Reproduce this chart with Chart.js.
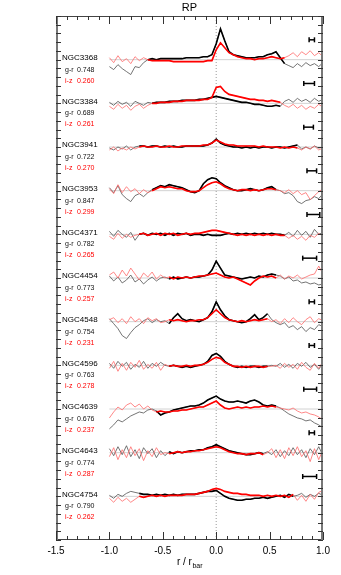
<!DOCTYPE html>
<html><head><meta charset="utf-8">
<script src="https://cdn.jsdelivr.net/npm/chart.js@4/dist/chart.umd.min.js"></script>
<style>html,body{margin:0;padding:0;background:#fff}canvas{display:block}</style>
</head><body>
<canvas id="c" width="341" height="575"></canvas>
<script>
// r / r_bar sample positions
const radius = [-1.00,-0.96,-0.92,-0.88,-0.84,-0.80,-0.76,-0.72,-0.68,-0.64,-0.60,-0.56,-0.52,-0.48,-0.44,-0.40,-0.36,-0.32,-0.28,-0.24,-0.20,-0.16,-0.12,-0.08,-0.04,0.00,0.04,0.08,0.12,0.16,0.20,0.24,0.28,0.32,0.36,0.40,0.44,0.48,0.52,0.56,0.60,0.64,0.68,0.72,0.76,0.80,0.84,0.88,0.92,0.96,1.00];
const galaxies = ['NGC3368','NGC3384','NGC3941','NGC3953','NGC4371','NGC4454','NGC4548','NGC4596','NGC4639','NGC4643','NGC4754'];
const meanGR = ['0.748','0.689','0.722','0.847','0.782','0.773','0.754','0.763','0.676','0.774','0.790'];
const meanIZ = ['0.260','0.261','0.270','0.299','0.265','0.257','0.231','0.278','0.237','0.287','0.262'];
// colour deviation profiles (0.01 mag)
const grNGC3368 = [-7,-10,-5,-9,-12,-15,-7,-8,-3,0,1,0,1,1,1,1,1,1,2,2,2,2,3,3,5,16,31,19,8,5,4,3,2,2,2,3,3,5,6,8,2,-4,-6,-8,-4,-7,-3,-6,-4,-7,-3];
const izNGC3368 = [2,-3,4,-2,1,-4,3,-1,2,0,-1,-1,-1,-1,-1,-2,-2,-2,-2,-2,-2,-2,-2,-1,-1,10,17,12,7,5,3,2,1,1,0,1,1,2,3,2,1,2,4,7,3,8,5,9,4,7,3];
const grNGC3384 = [1,-2,2,-1,1,-3,2,0,-2,1,0,1,1,1,2,2,2,3,3,3,3,4,4,5,6,7,6,5,4,3,2,1,1,0,-1,-1,-2,-3,-3,-2,-3,2,4,1,5,2,4,1,5,2,4];
const izNGC3384 = [-3,-6,-1,-5,-2,-7,-3,-1,-5,-2,0,0,1,1,1,2,2,2,3,3,3,3,4,4,6,16,17,12,9,8,7,6,5,4,4,3,3,2,3,2,1,-2,-4,-1,-5,-2,-6,-3,-5,-1,-4];
const grNGC3941 = [-1,-3,0,-2,1,-3,0,1,1,0,1,1,0,1,0,1,0,0,1,1,1,1,1,2,4,8,4,2,1,0,0,-1,0,-1,0,-1,0,0,-1,0,0,-1,0,1,2,-2,0,-2,1,-1,0];
const izNGC3941 = [-3,0,-4,-1,-3,0,-2,0,1,0,0,1,0,0,1,0,0,1,1,1,1,1,2,2,4,7,5,3,2,2,1,1,1,1,1,0,1,0,0,0,-1,0,-1,0,-1,-3,0,-2,1,-3,-1];
const grNGC3953 = [3,-2,5,-4,-8,-11,-5,-3,-6,-2,1,3,5,4,6,5,4,3,1,-1,-2,0,7,11,13,12,8,5,3,1,0,0,1,2,1,0,1,3,4,1,0,-3,-2,-5,-11,-13,-10,-9,-6,-8,-3];
const izNGC3953 = [2,-3,6,-2,4,-1,2,-3,1,-2,0,2,4,3,4,3,2,2,0,-1,-1,0,3,6,8,9,7,4,2,1,0,1,1,0,1,0,1,2,2,1,0,-2,1,-3,0,-4,-2,-9,-5,-1,2];
const grNGC4371 = [3,-2,4,0,-3,2,-6,0,1,-1,1,0,1,-1,1,-1,1,0,1,-1,0,0,-1,0,-1,-1,-1,0,1,0,1,0,1,0,1,0,1,0,1,0,0,-1,2,-2,4,-1,3,-3,5,0,2];
const izNGC4371 = [-2,-5,1,-4,0,-3,-1,0,1,-1,0,1,-1,1,0,1,-1,0,1,0,1,1,2,3,4,4,3,2,1,0,-1,0,-1,0,-1,0,-1,0,-1,0,-1,-1,-4,-1,-5,-2,-6,-1,-3,1,-2];
const grNGC4454 = [2,-3,1,-5,-2,3,-4,-1,-6,-2,1,-3,0,1,-1,1,-1,0,1,0,1,1,2,3,8,17,10,3,2,1,0,-1,0,1,0,2,1,3,4,3,2,-1,1,-3,-2,-5,-4,-6,-5,-7,-6];
const izNGC4454 = [3,6,0,8,2,10,4,-2,5,1,6,-1,3,0,1,-1,1,0,1,0,1,2,2,3,4,5,3,1,0,1,-1,-3,-5,-7,-3,0,2,1,2,0,3,-1,2,0,3,-1,1,3,4,12,4];
const grNGC4548 = [3,-2,-7,-14,-17,-11,-6,-3,1,3,-1,2,0,1,-2,4,8,3,1,2,1,0,2,4,10,20,12,6,2,1,0,-1,0,3,7,2,4,8,2,-1,-3,-1,-6,-4,-8,-5,-10,-6,-8,-3,-5];
const izNGC4548 = [2,4,-1,3,-2,5,0,3,-2,4,1,3,-1,0,2,1,2,1,0,1,1,2,2,4,8,12,8,4,2,1,0,1,0,1,2,1,2,3,0,2,-2,3,-1,4,0,-3,2,5,-1,3,1];
const grNGC4596 = [2,-3,4,-1,3,-4,1,-2,4,-3,2,-1,3,0,-1,0,-1,-2,-1,-2,-1,0,1,4,10,12,9,4,1,-1,-2,-1,-2,-1,-1,-2,-1,-1,0,-1,2,-2,1,-3,2,-1,3,-2,1,-4,2];
const izNGC4596 = [-3,4,-6,2,-5,3,-2,5,-4,1,-3,3,-5,1,-1,0,-1,-1,0,-1,0,0,1,3,6,8,7,3,1,-1,-1,-2,-1,-2,-1,-1,-2,-1,-1,0,-3,2,-2,1,-4,3,-2,-5,2,-3,4];
const grNGC4639 = [-20,-16,-11,-13,-10,-7,-5,-3,-4,-1,0,-2,-6,-4,-3,-1,0,1,2,3,3,4,6,9,11,13,10,8,7,7,8,7,6,8,9,7,4,3,4,3,1,-2,-5,-7,-9,-10,-12,-11,-14,-16,-19];
const izNGC4639 = [-9,-3,2,-1,4,6,2,5,0,3,-1,-3,-2,-3,-3,-2,-2,-1,-1,0,1,2,2,4,6,8,4,1,0,1,2,1,2,1,2,2,3,2,3,2,1,0,-1,1,-2,-4,-3,-5,-6,-8,-11];
const grNGC4643 = [4,-3,6,-2,7,-4,3,-6,5,-1,4,-5,2,-3,1,-1,1,0,1,2,2,3,3,5,6,8,6,4,2,1,0,-1,-2,-2,-1,0,-1,1,-2,3,-4,2,-3,5,-2,3,-5,4,-2,6,-3];
const izNGC4643 = [-4,5,-7,3,-5,6,-3,4,-8,2,-4,5,-2,0,-1,0,1,0,1,1,2,2,3,4,5,6,5,3,1,0,-1,-1,-2,-1,-1,0,-2,0,4,-5,3,-6,5,-3,6,-4,2,-9,4,-7,3];
const grNGC4754 = [1,-2,2,0,3,5,4,3,2,2,1,2,1,2,1,2,1,2,2,2,2,3,4,5,5,6,3,0,-2,-3,-4,-4,-3,-3,-2,-2,-1,-2,-1,0,1,-1,2,0,1,3,-1,2,0,3,1];
const izNGC4754 = [-2,-6,-1,-5,-2,-6,-3,0,-1,0,1,0,1,0,1,1,1,1,2,2,2,3,4,5,7,8,7,5,4,3,3,2,2,1,1,1,0,1,0,1,0,1,-1,2,-4,1,-5,2,-3,4,6];
const grProfiles = [grNGC3368,grNGC3384,grNGC3941,grNGC3953,grNGC4371,grNGC4454,grNGC4548,grNGC4596,grNGC4639,grNGC4643,grNGC4754];
const izProfiles = [izNGC3368,izNGC3384,izNGC3941,izNGC3953,izNGC4371,izNGC4454,izNGC4548,izNGC4596,izNGC4639,izNGC4643,izNGC4754];
// radial range of the well-measured (thick) part
const innerRange = [[-0.64,0.64],[-0.60,0.60],[-0.72,0.76],[-0.60,0.56],[-0.74,0.67],[-0.46,0.57],[-0.46,0.50],[-0.46,0.50],[-0.56,0.57],[-0.45,0.47],[-0.74,0.72]];
// scale-length error bars (r/r_bar)
const errBar = [[0.87,0.92],[0.82,0.92],[0.82,0.91],[0.85,0.94],[0.85,0.97],[0.81,0.94],[0.87,0.92],[0.87,0.92],[0.82,0.94],[0.87,0.92],[0.81,0.94]];
const profileOffset = 44;   // 0.01 mag between profiles
const errBarLift = 20;      // 0.01 mag above each profile
const yMax = 528;
const xTicks = [-1.5,-1.0,-0.5,0.0,0.5,1.0];

const datasets = [];
galaxies.forEach((g,i)=>{
  const base = (galaxies.length - i) * profileOffset;
  const [r0,r1] = innerRange[i];
  const gr = radius.map((r,k)=>({x:r,y:base+grProfiles[i][k]}));
  const iz = radius.map((r,k)=>({x:r,y:base+izProfiles[i][k]}));
  datasets.push({data:[{x:-1.0,y:base},{x:1.0,y:base}],borderColor:'#d2d2d2',borderWidth:1,order:10});
  datasets.push({data:gr,borderColor:'#505050',borderWidth:0.8,order:5});
  datasets.push({data:iz,borderColor:'#ff6a6a',borderWidth:0.8,order:4});
  datasets.push({data:gr.filter(p=>p.x>=r0-1e-6&&p.x<=r1+1e-6),borderColor:'#000000',borderWidth:1.6,order:3});
  datasets.push({data:iz.filter(p=>p.x>=r0-1e-6&&p.x<=r1+1e-6),borderColor:'#ff0000',borderWidth:1.6,order:2});
  datasets.push({data:[{x:errBar[i][0],y:base+errBarLift},{x:errBar[i][1],y:base+errBarLift}],borderColor:'#000',borderWidth:1.5,
    pointStyle:'line',pointRotation:90,pointRadius:2.5,pointBorderWidth:1.5,pointBorderColor:'#000',order:0});
});
datasets.push({data:[{x:0,y:0},{x:0,y:yMax}],borderColor:'#9a9a9a',borderWidth:1,borderDash:[1,2],order:9});

const decor = {
  id:'decor',
  afterDraw(chart){
    const {ctx, chartArea:a, scales:{x,y}} = chart;
    ctx.save();
    ctx.strokeStyle='#444'; ctx.lineWidth=1;
    ctx.beginPath();
    ctx.moveTo(a.left,a.top+0.5); ctx.lineTo(a.right,a.top+0.5);
    ctx.moveTo(a.left,a.bottom-0.5); ctx.lineTo(a.right,a.bottom-0.5);
    ctx.stroke();
    ctx.strokeStyle='#777'; ctx.lineWidth=2;
    ctx.beginPath();
    ctx.moveTo(a.left+1,a.top); ctx.lineTo(a.left+1,a.bottom);
    ctx.moveTo(a.right-1,a.top); ctx.lineTo(a.right-1,a.bottom);
    ctx.stroke();
    ctx.strokeStyle='#333'; ctx.lineWidth=1;
    ctx.beginPath();
    for(let i=0;i<=25;i++){
      const v=-1.5+i*0.1; const px=Math.round(x.getPixelForValue(v))+0.5;
      const len=(i%5===0)?8:4;
      ctx.moveTo(px,a.bottom); ctx.lineTo(px,a.bottom-len);
      ctx.moveTo(px,a.top); ctx.lineTo(px,a.top+len);
    }
    for(let v=0; v<=yMax+0.01; v+=profileOffset/5){
      const py=Math.round(y.getPixelForValue(v))+0.5;
      ctx.moveTo(a.left,py); ctx.lineTo(a.left+5,py);
      ctx.moveTo(a.right,py); ctx.lineTo(a.right-5,py);
    }
    ctx.stroke();
    ctx.fillStyle='#000'; ctx.textAlign='center'; ctx.textBaseline='middle';
    ctx.font='10px "Liberation Sans", Arial, sans-serif';
    xTicks.forEach(v=>ctx.fillText(v.toFixed(1), x.getPixelForValue(v), a.bottom+11));
    ctx.font='11px "Liberation Sans", Arial, sans-serif';
    ctx.fillText('RP',(a.left+a.right)/2, 8);
    ctx.textAlign='left'; ctx.textBaseline='alphabetic';
    ctx.font='10px "Liberation Sans", Arial, sans-serif';
    const main='r / r'; const wm=ctx.measureText(main).width;
    ctx.font='7px "Liberation Sans", Arial, sans-serif';
    const ws=ctx.measureText('bar').width;
    const cx=(a.left+a.right)/2; const x0=cx-(wm+ws)/2;
    ctx.font='10px "Liberation Sans", Arial, sans-serif';
    ctx.fillText(main,x0,564.5);
    ctx.font='7px "Liberation Sans", Arial, sans-serif';
    ctx.fillText('bar',x0+wm+0.5,567.5);
    ctx.textBaseline='middle';
    galaxies.forEach((g,i)=>{
      const py=y.getPixelForValue((galaxies.length-i)*profileOffset);
      ctx.fillStyle='#000';
      ctx.font='8px "Liberation Sans", Arial, sans-serif';
      ctx.fillText(g, a.left+6, py-2);
      ctx.font='7px "Liberation Sans", Arial, sans-serif';
      ctx.fillStyle='#111';
      ctx.fillText('g-r', a.left+9, py+10);
      ctx.fillText(meanGR[i], a.left+21, py+10);
      ctx.fillStyle='#ff0000';
      ctx.fillText('i-z', a.left+9, py+21);
      ctx.fillText(meanIZ[i], a.left+21, py+21);
    });
    ctx.restore();
  }
};

new Chart(document.getElementById('c'),{
  type:'line',
  data:{datasets},
  options:{
    responsive:false, animation:false, devicePixelRatio:1,
    layout:{padding:{left:56,right:18,top:16,bottom:35}},
    elements:{point:{radius:0},line:{tension:0,fill:false}},
    plugins:{legend:{display:false},tooltip:{enabled:false},title:{display:false}},
    scales:{
      x:{type:'linear',min:-1.5,max:1.0,display:false},
      y:{type:'linear',min:0,max:yMax,display:false}
    }
  },
  plugins:[decor]
});
</script>
</body></html>
